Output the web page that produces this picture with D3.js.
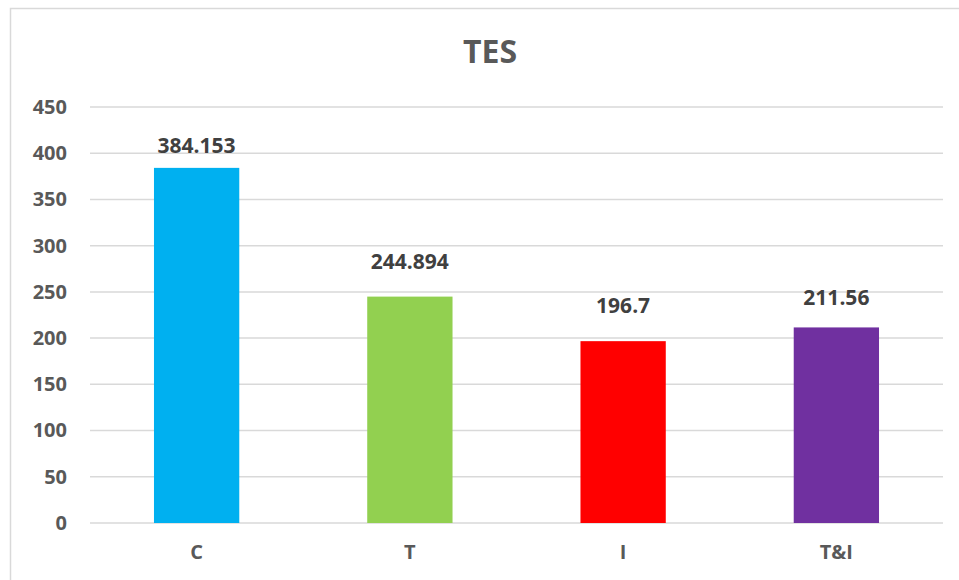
<!DOCTYPE html>
<html>
<head>
<meta charset="utf-8">
<script src="https://cdn.jsdelivr.net/npm/d3@7"></script>
<style>
  body { margin: 0; background: #fff; }
  svg text { font-family: "Open Sans", "Segoe UI", sans-serif; font-weight: 700; }
</style>
</head>
<body>
<div id="chart"></div>
<script>
const categories = ["C", "T", "I", "T&I"];
const values = [384.153, 244.894, 196.7, 211.56];
const colors = ["#00B0F0", "#92D050", "#FF0000", "#7030A0"];
const yTicks = [0, 50, 100, 150, 200, 250, 300, 350, 400, 450];

// labels were nudged by hand, so each sits a little differently above its bar
const labelLift = [15, 28, 28, 22];

const width = 959, height = 580;
const plotLeft = 90, plotRight = 943, plotTop = 107, plotBottom = 523;

const svg = d3.select("#chart")
  .append("svg")
  .attr("width", width)
  .attr("height", height);

// frame
svg.append("rect")
  .attr("x", 10.5)
  .attr("y", 8.5)
  .attr("width", 970)
  .attr("height", 600)
  .attr("fill", "#fff")
  .attr("stroke", "#d9d9d9")
  .attr("stroke-width", 1.5);

const x = d3.scaleBand()
  .domain(categories)
  .range([plotLeft, plotRight])
  .paddingInner(0.6)
  .paddingOuter(0.3);

const y = d3.scaleLinear()
  .domain([0, 450])
  .range([plotBottom, plotTop]);

// grid
svg.append("g")
  .selectAll("line")
  .data(yTicks)
  .enter()
  .append("line")
  .attr("x1", plotLeft)
  .attr("x2", plotRight)
  .attr("y1", d => y(d))
  .attr("y2", d => y(d))
  .attr("stroke", "#d9d9d9")
  .attr("stroke-width", 1.5);

// y axis labels
const yAxis = svg.append("g")
  .attr("transform", "translate(" + (plotLeft - 23) + ",0)")
  .call(d3.axisLeft(y).tickValues(yTicks).tickSize(0).tickPadding(0));
yAxis.select(".domain").remove();
yAxis.selectAll("text")
  .attr("fill", "#595959")
  .style("font-size", "20px")
  .style("font-family", "'Open Sans', sans-serif")
  .style("font-weight", 700);

// bars
svg.append("g")
  .selectAll("rect")
  .data(values)
  .enter()
  .append("rect")
  .attr("x", (d, i) => x(categories[i]))
  .attr("y", d => y(d))
  .attr("width", x.bandwidth())
  .attr("height", d => y(0) - y(d))
  .attr("fill", (d, i) => colors[i]);

// value labels
svg.append("g")
  .selectAll("text")
  .data(values)
  .enter()
  .append("text")
  .attr("x", (d, i) => x(categories[i]) + x.bandwidth() / 2)
  .attr("y", (d, i) => y(d) - labelLift[i])
  .attr("text-anchor", "middle")
  .attr("fill", "#404040")
  .style("font-size", "21px")
  .text(d => d);

// x axis labels
const xAxis = svg.append("g")
  .attr("transform", "translate(0," + plotBottom + ")")
  .call(d3.axisBottom(x).tickSize(0).tickPadding(0));
xAxis.select(".domain").remove();
xAxis.selectAll("text")
  .attr("dy", null)
  .attr("y", 36)
  .attr("fill", "#595959")
  .style("font-size", "20px")
  .style("font-family", "'Open Sans', sans-serif")
  .style("font-weight", 700);

// title
svg.append("text")
  .attr("x", 490)
  .attr("y", 63)
  .attr("text-anchor", "middle")
  .attr("fill", "#595959")
  .style("font-size", "32px")
  .text("TES");
</script>
</body>
</html>
